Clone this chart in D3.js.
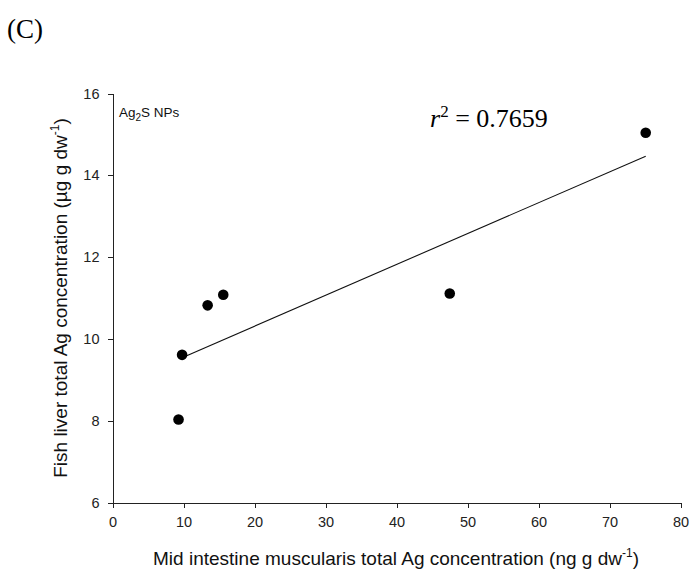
<!DOCTYPE html>
<meta charset="utf-8">
<style>
body { margin: 0; background: #fff; }
.axis path, .axis line { stroke: #222; shape-rendering: crispEdges; }
.axis text { font-family: Arial, "Liberation Sans", sans-serif; font-size: 14.5px; fill: #222; }
.label { font-family: Arial, "Liberation Sans", sans-serif; font-size: 19px; fill: #111; }
.serif { font-family: "Times New Roman", "Liberation Serif", serif; fill: #000; }
</style>
<svg width="694" height="575"></svg>
<script src="https://cdn.jsdelivr.net/npm/d3@7"></script>
<script>

// intestine muscularis (ng g dw-1) vs liver (ug g dw-1), Ag2S NPs
var intestine = [9.3, 9.8, 13.4, 15.6, 47.5, 75.1],
    liver = [8.03, 9.61, 10.82, 11.08, 11.11, 15.04];

var xTicks = [0, 10, 20, 30, 40, 50, 60, 70, 80],
    yTicks = [6, 8, 10, 12, 14, 16];

var fitRange = [9.8, 75.1];

var svg = d3.select("svg");

var x = d3.scaleLinear().domain([0, 80]).range([112.5, 680.5]),
    y = d3.scaleLinear().domain([6, 16]).range([502.5, 93.5]);

svg.append("g")
    .attr("class", "axis")
    .attr("transform", "translate(0," + y(6) + ")")
    .call(d3.axisBottom(x).tickValues(xTicks).tickSize(5).tickPadding(9).tickSizeOuter(0));

svg.append("g")
    .attr("class", "axis")
    .attr("transform", "translate(" + x(0) + ",0)")
    .call(d3.axisLeft(y).tickValues(yTicks).tickSize(5).tickPadding(8).tickSizeOuter(0));

// linear fit
var pts = d3.zip(intestine, liver),
    mx = d3.mean(intestine),
    my = d3.mean(liver),
    slope = d3.sum(pts, function(p) { return (p[0] - mx) * (p[1] - my); }) /
            d3.sum(pts, function(p) { return (p[0] - mx) * (p[0] - mx); }),
    icpt = my - slope * mx;

svg.append("path")
    .datum(fitRange)
    .attr("fill", "none")
    .attr("stroke", "#111")
    .attr("stroke-width", 1.1)
    .attr("d", d3.line()
      .x(function(d) { return x(d); })
      .y(function(d) { return y(icpt + slope * d); }));

svg.append("g")
  .selectAll("circle")
    .data(pts)
  .enter().append("circle")
    .attr("cx", function(d) { return x(d[0]); })
    .attr("cy", function(d) { return y(d[1]); })
    .attr("r", 5.3)
    .attr("fill", "#000");

svg.append("text")
    .attr("class", "serif")
    .attr("x", 7)
    .attr("y", 38)
    .style("font-size", "27px")
    .text("(C)");

var r2 = svg.append("text")
    .attr("class", "serif")
    .attr("x", 430)
    .attr("y", 127)
    .style("font-size", "26px");
r2.append("tspan").style("font-style", "italic").text("r");
r2.append("tspan").attr("dy", -10).style("font-size", "17px").text("2");
r2.append("tspan").attr("dy", 10).text(" = 0.7659");

var tag = svg.append("text")
    .attr("class", "label")
    .attr("x", 119)
    .attr("y", 117)
    .style("font-size", "13.5px");
tag.append("tspan").text("Ag");
tag.append("tspan").attr("dy", 4).style("font-size", "10px").text("2");
tag.append("tspan").attr("dy", -4).text("S NPs");

var xl = svg.append("text")
    .attr("class", "label")
    .attr("x", 396)
    .attr("y", 565)
    .attr("text-anchor", "middle");
xl.append("tspan").text("Mid intestine muscularis total Ag concentration (ng g dw");
xl.append("tspan").attr("dy", -8).style("font-size", "12px").text("-1");
xl.append("tspan").attr("dy", 8).text(")");

var yl = svg.append("text")
    .attr("class", "label")
    .attr("transform", "translate(67," + y(11) + ") rotate(-90)")
    .attr("text-anchor", "middle");
yl.append("tspan").text("Fish liver total Ag concentration (\u00b5g g dw");
yl.append("tspan").attr("dy", -8).style("font-size", "12px").text("-1");
yl.append("tspan").attr("dy", 8).text(")");

</script>
